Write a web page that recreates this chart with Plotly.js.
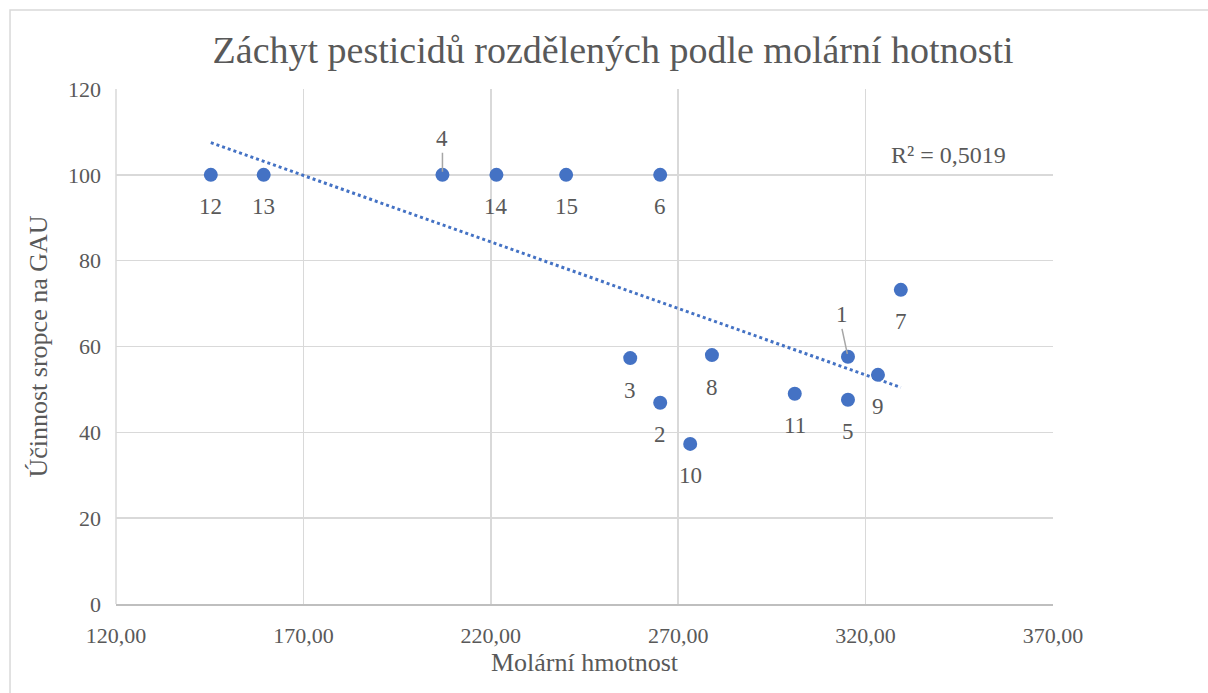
<!DOCTYPE html>
<html><head><meta charset="utf-8">
<script src="https://cdn.plot.ly/plotly-3.0.1.min.js"></script>
<style>html,body{margin:0;padding:0;background:#fff}#chart{width:1208px;height:693px}</style>
</head><body><div id="chart"></div>
<script>
const labels = ['12','13','4','14','15','6','3','2','10','8','11','5','1','9','7'];
const molarMass = [145.3,159.4,207.1,221.5,240.1,265.2,257.2,265.2,273.2,279.0,301.1,315.3,315.3,323.3,329.4];
const efficiency = [100,100,100,100,100,100,57.3,46.9,37.3,58.0,49.0,47.6,57.6,53.4,73.2];
const xTicks = [120,170,220,270,320,370];
const xTickText = ['120,00','170,00','220,00','270,00','320,00','370,00'];
const yTicks = [0,20,40,60,80,100,120];
const r2Text = 'R² = 0,5019';
const leaderLabels = ['4','1'];

// least squares trendline
const n = molarMass.length;
const mx = molarMass.reduce((a,b)=>a+b,0)/n;
const my = efficiency.reduce((a,b)=>a+b,0)/n;
let sxy=0,sxx=0;
for(let i=0;i<n;i++){sxy+=(molarMass[i]-mx)*(efficiency[i]-my);sxx+=(molarMass[i]-mx)**2;}
const slope=sxy/sxx, icpt=my-slope*mx;
const xmin=Math.min(...molarMass), xmax=Math.max(...molarMass);
const trendX=[xmin,xmax], trendY=trendX.map(x=>icpt+slope*x);

const blue='#4472C4', txt='#595959', grid='#d9d9d9';
const font="'Liberation Serif', 'Times New Roman', serif";

const annotations = labels.map((l,i)=>{
  if(leaderLabels.includes(l)){
    return {x:molarMass[i],y:efficiency[i],xref:'x',yref:'y',text:l,showarrow:true,
      arrowhead:0,arrowwidth:1.5,arrowcolor:'#a6a6a6',ax:l==='1'?-6:0,ay:l==='1'?-28:-22,standoff:3,
      font:{family:font,size:23,color:txt},yanchor:'bottom'};
  }
  return {x:molarMass[i],y:efficiency[i],xref:'x',yref:'y',text:l,showarrow:false,
    yshift:-32,font:{family:font,size:23,color:txt}};
});
annotations.push({xref:'paper',yref:'paper',x:0.889,y:0.872,xanchor:'center',yanchor:'middle',text:r2Text,showarrow:false,
  font:{family:font,size:24,color:txt}});

const traces=[
 {x:trendX,y:trendY,mode:'lines',line:{color:blue,width:3,dash:'dot'},hoverinfo:'skip',showlegend:false},
 {x:molarMass,y:efficiency,mode:'markers',marker:{color:blue,size:14},showlegend:false}
];
const layout={
  width:1208,height:693,paper_bgcolor:'#fff',plot_bgcolor:'#fff',
  margin:{l:116,r:155,t:89,b:89},
  title:{text:'Záchyt pesticidů rozdělených podle molární hotnosti',font:{family:font,size:38,color:txt},x:0.5075,xanchor:'center',y:0.928,yanchor:'middle'},
  xaxis:{range:[120,370],tickvals:xTicks,ticktext:xTickText,showgrid:true,gridcolor:grid,gridwidth:1.5,
    zeroline:false,showline:true,linecolor:'#bfbfbf',linewidth:1.5,ticks:'',ticklabelstandoff:11,
    tickfont:{family:font,size:22,color:txt},
    title:{text:'Molární hmotnost',font:{family:font,size:26,color:txt},standoff:0}},
  yaxis:{range:[0,120],tickvals:yTicks,showgrid:true,gridcolor:grid,gridwidth:1.5,zeroline:false,
    showline:false,ticks:'',ticklabelstandoff:14,tickfont:{family:font,size:22,color:txt},
    title:{text:'Účinnost sropce na GAU',font:{family:font,size:26,color:txt},standoff:12}},
  annotations:annotations,
  shapes:[
    {type:'line',xref:'paper',yref:'paper',x0:0,x1:0,y0:0,y1:1,line:{color:grid,width:1.5},layer:'below'},
    {type:'path',xref:'paper',yref:'paper',path:'M -0.1131,-0.3 L -0.1131,1.1534 L 1.3,1.1534',line:{color:grid,width:1.5}}
  ]
};
Plotly.newPlot('chart',traces,layout,{displayModeBar:false,staticPlot:true});
</script></body></html>
